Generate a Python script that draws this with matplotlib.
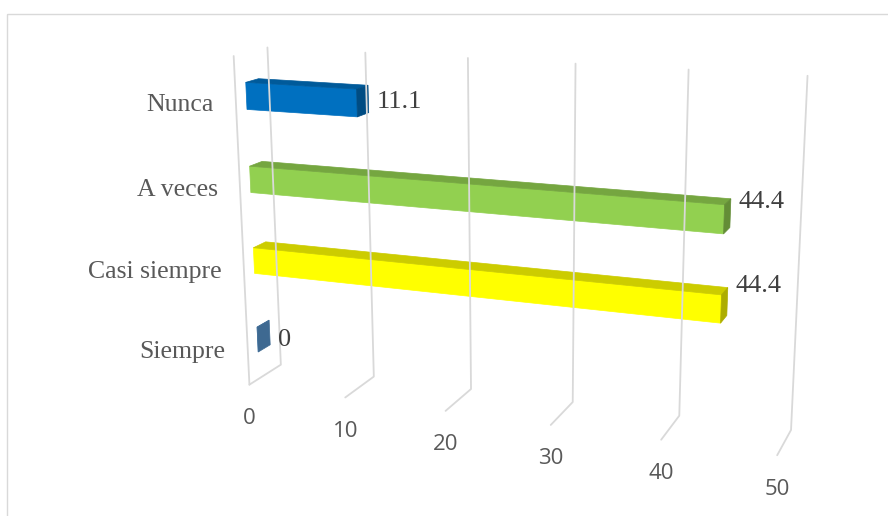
import matplotlib.pyplot as plt
import numpy as np
from matplotlib.patches import Polygon, Rectangle

# data
categories = ['Nunca', 'A veces', 'Casi siempre', 'Siempre']
values = [11.1, 44.4, 44.4, 0]
bar_colors = ['#0070C0', '#92D050', '#FFFF00', '#5B9BD5']
ticks = [0, 10, 20, 30, 40, 50]
vmax = 50.0

# 3d box: x = value, y = height (0 bottom, 1 top), z = depth (0 back, 1 front)
# screen positions of the wall / floor corners, used to fit a pinhole camera
box_world = np.array([
    [0, 0, 0], [10, 0, 0], [20, 0, 0], [30, 0, 0], [40, 0, 0], [50, 0, 0],
    [0, 1, 0], [10, 1, 0], [20, 1, 0], [30, 1, 0], [40, 1, 0], [50, 1, 0],
    [0, 0, 1], [10, 0, 1], [20, 0, 1], [30, 0, 1], [40, 0, 1], [50, 0, 1],
    [0, 1, 1],
], dtype=float)
box_px = np.array([
    [281, 364], [374, 377], [471, 389], [573, 402], [679, 416], [791, 430],
    [267, 48], [365, 53], [468, 58], [576, 63], [689, 69], [807, 76],
    [249, 384], [345, 398], [446, 411], [551, 425], [661, 440], [777, 455],
    [234, 56],
], dtype=float)


def fit_camera(world, px):
    w = world.copy()
    w[:, 0] /= vmax
    p = (px - [444, 258]) / 444.0
    rows = []
    for (X, Y, Z), (u, v) in zip(w, p):
        rows.append([X, Y, Z, 1, 0, 0, 0, 0, -u * X, -u * Y, -u * Z, -u])
        rows.append([0, 0, 0, 0, X, Y, Z, 1, -v * X, -v * Y, -v * Z, -v])
    _, _, vt = np.linalg.svd(np.array(rows))
    return vt[-1].reshape(3, 4)


P = fit_camera(box_world, box_px)


def project(x, y, z):
    h = P @ np.array([x / vmax, y, z, 1.0])
    return np.array([h[0] / h[2] * 444 + 444, h[1] / h[2] * 444 + 258])


def shade(color, f):
    r, g, b = plt.matplotlib.colors.to_rgb(color)
    return (r * f, g * f, b * f)


fig = plt.figure(figsize=(8.88, 5.16), dpi=100)
ax = fig.add_axes([0, 0, 1, 1])
ax.set_xlim(0, 888)
ax.set_ylim(516, 0)
ax.axis('off')

ax.add_patch(Rectangle((7, 14), 900, 600, fill=False, ec='#D9D9D9', lw=1))

grid_kw = dict(color='#D9D9D9', lw=1.3, solid_capstyle='round')
for t in ticks:
    pts = np.array([project(t, 1, 0), project(t, 0, 0), project(t, 0, 1)])
    ax.plot(pts[:, 0], pts[:, 1], **grid_kw)
    fx, fy = project(t, 0, 1)
    ax.text(fx, fy + 34, str(t), ha='center', va='center', fontsize=16,
            family='Open Sans', color='#595959')
edge = np.array([project(0, 1, 1), project(0, 0, 1)])
ax.plot(edge[:, 0], edge[:, 1], **grid_kw)

n = len(categories)
band = 1.0 / n
thick = 0.08
z0, z1 = 0.31, 0.69
for i, (cat, val, col) in enumerate(zip(categories, values, bar_colors)):
    yc = 1 - (i + 0.5) * band
    y0, y1 = yc - thick / 2, yc + thick / 2

    front = [project(0, y0, z1), project(val, y0, z1), project(val, y1, z1), project(0, y1, z1)]
    top = [project(0, y1, z1), project(val, y1, z1), project(val, y1, z0), project(0, y1, z0)]
    end = [project(val, y0, z1), project(val, y0, z0), project(val, y1, z0), project(val, y1, z1)]
    for face, f in ((front, 1.0), (top, 0.8), (end, 0.68)):
        c = shade(col, f)
        ax.add_patch(Polygon(face, closed=True, fc=c, ec=c, lw=0.5))

    allpts = np.array(front + top + end)
    ax.text(allpts[:, 0].max() + 8, (allpts[:, 1].min() + allpts[:, 1].max()) / 2 + 4,
            f'{val:g}', ha='left', va='center', fontsize=19,
            family='Liberation Serif', color='#404040')

    lx, ly = project(0, yc, 1)
    ax.text(lx - 22, ly + 6, cat, ha='right', va='center', fontsize=18.5,
            family='Liberation Serif', color='#595959')

fig.savefig('out.png', dpi=100)
